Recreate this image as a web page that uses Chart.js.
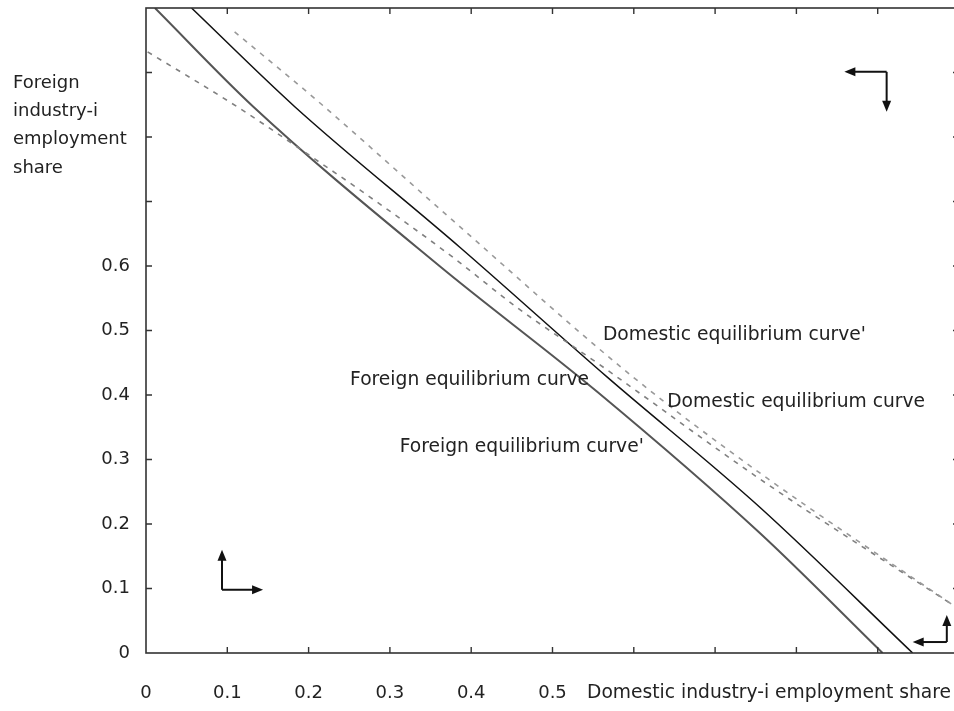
<!DOCTYPE html>
<html>
<head>
<meta charset="utf-8">
<script src="https://cdn.jsdelivr.net/npm/chart.js@4.4.1/dist/chart.umd.min.js"></script>
<style>
  html, body { margin: 0; padding: 0; background: #fff; overflow: hidden; }
  canvas { display: block; }
</style>
</head>
<body>
<canvas id="chart" width="962" height="711"></canvas>
<script>
// tick labels (only the first six are printed on each axis)
const xTickLabels = ['0', '0.1', '0.2', '0.3', '0.4', '0.5', '', '', '', '', ''];
const yTickLabels = ['0', '0.1', '0.2', '0.3', '0.4', '0.5', '0.6', '', '', '', ''];

// Domestic equilibrium curve (solid, upper)
const domX = [0.056, 0.183, 0.386, 0.567, 0.755, 0.943];
const domY = [1.0, 0.847, 0.629, 0.428, 0.226, 0.0];
// Foreign equilibrium curve (solid, lower)
const forX = [0.011, 0.132, 0.361, 0.555, 0.755, 0.906];
const forY = [1.0, 0.847, 0.600, 0.405, 0.186, 0.0];
// Domestic equilibrium curve' (dashed, upper)
const domPX = [0.109, 0.210, 0.377, 0.599, 0.764, 0.993];
const domPY = [0.963, 0.857, 0.671, 0.428, 0.271, 0.074];
// Foreign equilibrium curve' (dashed, starts on the left axis)
const forPX = [0.002, 0.112, 0.218, 0.263, 0.377, 0.456, 0.558, 0.764, 0.993];
const forPY = [0.932, 0.847, 0.757, 0.718, 0.614, 0.536, 0.447, 0.262, 0.074];

// text labels on the plot
const curveLabels = [
  { text: "Domestic equilibrium curve'", x: 0.562, y: 0.493 },
  { text: 'Foreign equilibrium curve', x: 0.251, y: 0.423 },
  { text: 'Domestic equilibrium curve', x: 0.641, y: 0.389 },
  { text: "Foreign equilibrium curve'", x: 0.312, y: 0.319 }
];

// direction arrows [x0, y0, x1, y1]
const arrows = [
  [0.0935, 0.098, 0.0935, 0.160],
  [0.0935, 0.098, 0.144, 0.098],
  [0.911, 0.901, 0.859, 0.901],
  [0.911, 0.901, 0.911, 0.839],
  [0.985, 0.017, 0.943, 0.017],
  [0.985, 0.017, 0.985, 0.059]
];

const yTitle = ['Foreign', 'industry-i', 'employment', 'share'];
const xTitle = 'Domestic industry-i employment share';

const FONT = '"DejaVu Sans", sans-serif';
const TEXT = '#222';

function pts(xs, ys) {
  return xs.map((x, i) => ({ x: x, y: ys[i] }));
}

function drawArrow(ctx, x0, y0, x1, y1) {
  let ang = Math.atan2(y1 - y0, x1 - x0);
  let len = 11, half = 4.5;
  ctx.beginPath();
  ctx.moveTo(x0, y0);
  ctx.lineTo(x1 - Math.cos(ang) * len * 0.6, y1 - Math.sin(ang) * len * 0.6);
  ctx.stroke();
  ctx.beginPath();
  ctx.moveTo(x1, y1);
  ctx.lineTo(x1 - Math.cos(ang) * len - Math.sin(ang) * half, y1 - Math.sin(ang) * len + Math.cos(ang) * half);
  ctx.lineTo(x1 - Math.cos(ang) * len + Math.sin(ang) * half, y1 - Math.sin(ang) * len - Math.cos(ang) * half);
  ctx.closePath();
  ctx.fill();
}

// frame, inward ticks, titles, labels and arrows
const decor = {
  id: 'decor',
  afterDraw(chart) {
    let ctx = chart.ctx;
    let a = chart.chartArea;
    let xs = chart.scales.x, ys = chart.scales.y;
    ctx.save();

    ctx.strokeStyle = '#333';
    ctx.lineWidth = 1.6;
    ctx.strokeRect(a.left, a.top, a.right - a.left, a.bottom - a.top);

    ctx.lineWidth = 1.4;
    ctx.beginPath();
    xs.ticks.forEach(t => {
      if (t.value <= 0 || t.value >= 1) return;
      let px = xs.getPixelForValue(t.value);
      ctx.moveTo(px, a.bottom); ctx.lineTo(px, a.bottom - 6);
      ctx.moveTo(px, a.top); ctx.lineTo(px, a.top + 6);
    });
    ys.ticks.forEach(t => {
      if (t.value <= 0 || t.value >= 1) return;
      let py = ys.getPixelForValue(t.value);
      ctx.moveTo(a.left, py); ctx.lineTo(a.left + 6, py);
      ctx.moveTo(a.right, py); ctx.lineTo(a.right - 6, py);
    });
    ctx.stroke();

    ctx.fillStyle = TEXT;
    ctx.textAlign = 'left';
    ctx.textBaseline = 'middle';
    ctx.font = '18px ' + FONT;
    yTitle.forEach((line, i) => ctx.fillText(line, 13, 83 + i * 28.3));
    ctx.font = '18.7px ' + FONT;
    ctx.fillText(xTitle, 587, 693);

    curveLabels.forEach(l => {
      ctx.fillText(l.text, xs.getPixelForValue(l.x), ys.getPixelForValue(l.y));
    });

    ctx.strokeStyle = '#111';
    ctx.fillStyle = '#111';
    ctx.lineWidth = 2;
    arrows.forEach(r => {
      drawArrow(ctx, xs.getPixelForValue(r[0]), ys.getPixelForValue(r[1]),
        xs.getPixelForValue(r[2]), ys.getPixelForValue(r[3]));
    });
    ctx.restore();
  }
};

new Chart(document.getElementById('chart').getContext('2d'), {
  type: 'scatter',
  data: {
    datasets: [
      { data: pts(domPX, domPY), borderColor: '#999', borderWidth: 1.6, borderDash: [5, 6] },
      { data: pts(forPX, forPY), borderColor: '#808080', borderWidth: 1.6, borderDash: [5, 6] },
      { data: pts(forX, forY), borderColor: '#555', borderWidth: 2 },
      { data: pts(domX, domY), borderColor: '#111', borderWidth: 1.5 }
    ]
  },
  options: {
    responsive: false,
    animation: false,
    showLine: true,
    elements: { point: { radius: 0 }, line: { cubicInterpolationMode: 'monotone' } },
    layout: { padding: { top: 8, right: 3, left: 0, bottom: 0 } },
    plugins: { legend: { display: false }, tooltip: { enabled: false } },
    scales: {
      x: {
        type: 'linear', min: 0, max: 1,
        grid: { display: false }, border: { display: false },
        ticks: {
          stepSize: 0.1, autoSkip: false, maxRotation: 0, padding: 22,
          color: TEXT, font: { family: FONT, size: 18 },
          callback: (v, i) => xTickLabels[i]
        },
        afterFit: s => { s.height = 58; s.paddingLeft = 0; s.paddingRight = 0; }
      },
      y: {
        type: 'linear', min: 0, max: 1,
        grid: { display: false }, border: { display: false },
        ticks: {
          stepSize: 0.1, autoSkip: false, padding: 8,
          color: TEXT, font: { family: FONT, size: 18 },
          callback: (v, i) => yTickLabels[i]
        },
        afterFit: s => { s.width = 146; s.paddingTop = 0; s.paddingBottom = 0; }
      }
    }
  },
  plugins: [decor]
});
</script>
</body>
</html>
